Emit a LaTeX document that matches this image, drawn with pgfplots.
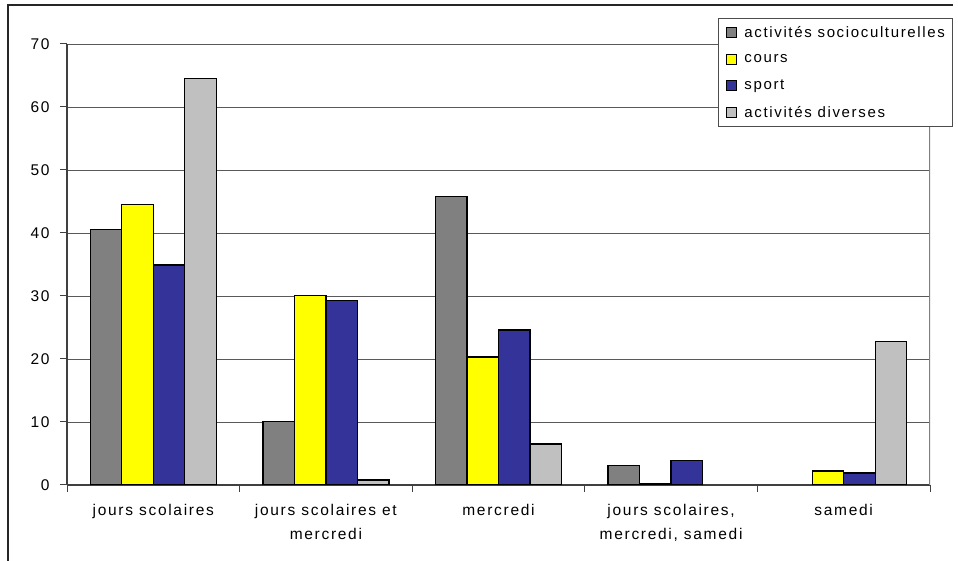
\documentclass[border=0pt]{standalone}
\usepackage{pgfplots}
\pgfplotsset{compat=1.18}
\usepackage{fontspec}
\setmainfont{Liberation Sans}[LetterSpace=11]
\definecolor{cgray}{HTML}{808080}
\definecolor{cyellow}{HTML}{FFFF00}
\definecolor{cblue}{HTML}{333399}
\definecolor{clight}{HTML}{C0C0C0}
\begin{document}
\begin{tikzpicture}[x=1pt,y=1pt]
\useasboundingbox (0,0) rectangle (958,561);
\draw[line width=1.2pt, black!85] (8,0) -- (8,556) -- (953,556);
\begin{axis}[at={(67pt,76pt)}, anchor=south west, scale only axis,
  width=863pt, height=441pt,
  xmin=0, xmax=5, ymin=0, ymax=70,
  ytick={0,10,...,70},
  xtick={0,1,2,3,4,5}, xticklabels={,,,,,},
  extra x ticks={0.5,1.5,2.5,3.5,4.5},
  extra x tick labels={jours scolaires, {jours scolaires et\\mercredi}, mercredi, {jours scolaires,\\mercredi, samedi}, samedi},
  extra x tick style={major tick length=0pt, tick label style={align=center, yshift=-16pt, font=\fontsize{15.5}{24}\selectfont}},
  ymajorgrids, grid style={line width=0.9pt, color=black!65},
  axis x line*=bottom, axis y line*=left,
  axis line style={-, line width=1.6pt, color=black!75},
  tick align=outside, major tick length=7pt,
  tick style={line width=1pt, color=black!75},
  /pgf/number format/assume math mode=true,
  ticklabel style={font=\fontsize{15.5}{24}\selectfont, color=black},
  yticklabel style={xshift=-7pt},
  ybar=0pt, bar width=31.5pt,
  legend style={at={(0.7543,1.059)}, anchor=north west, draw=black!70, line width=0.9pt,
    font=\fontsize{15}{18}\selectfont, legend cell align=left, row sep=11.5pt,
    inner xsep=6pt, inner ysep=6pt},
  legend image code/.code={\draw[#1, line width=1pt] (2pt,-5pt) rectangle (12pt,5pt); \path[draw=none, fill=none] (0pt,0pt) -- (18pt,0pt);},
]
\addplot[fill=cgray, draw=black, line width=1.3pt] coordinates {(0.5,40.5) (1.5,10.1) (2.5,45.8) (3.5,3.1)};
\addplot[fill=cyellow, draw=black, line width=1.3pt] coordinates {(0.5,44.5) (1.5,30.1) (2.5,20.3) (3.5,0.2) (4.5,2.2)};
\addplot[fill=cblue, draw=black, line width=1.3pt] coordinates {(0.5,34.9) (1.5,29.3) (2.5,24.6) (3.5,3.9) (4.5,1.9)};
\addplot[fill=clight, draw=black, line width=1.3pt] coordinates {(0.5,64.5) (1.5,0.8) (2.5,6.5) (4.5,22.8)};
\legend{activités socioculturelles, cours, sport, activités diverses}
\draw[line width=1.6pt, color=black!50] (rel axis cs:1,0) -- (rel axis cs:1,1);
\end{axis}
\end{tikzpicture}
\end{document}
